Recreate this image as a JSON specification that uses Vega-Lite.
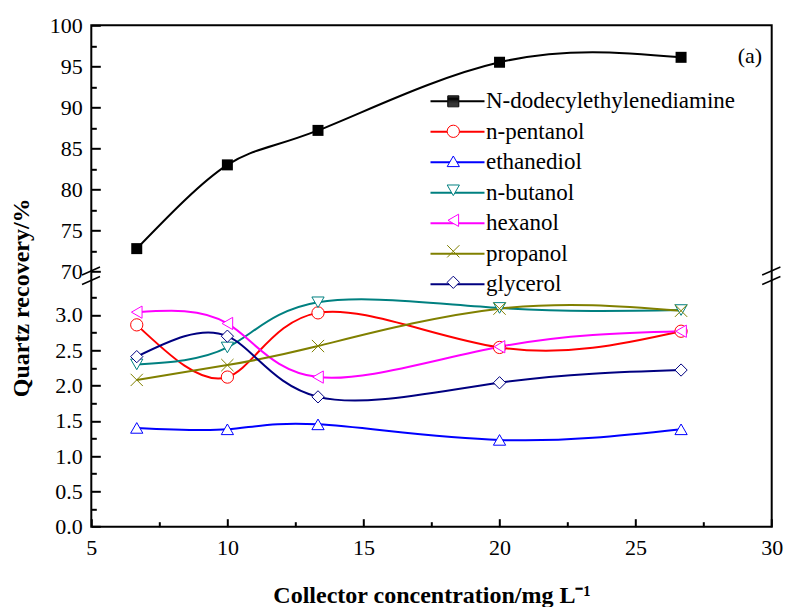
{
  "$schema": "https://vega.github.io/schema/vega-lite/v6.json",
  "width": 680.4,
  "height": 501.4,
  "autosize": {"type": "none"},
  "padding": {"left": 91.3, "top": 25.3, "right": 13.3, "bottom": 80.3},
  "background": "white",
  "config": {
    "font": "Liberation Serif",
    "view": {"stroke": "black", "strokeWidth": 2},
    "axis": {
      "labelFont": "Liberation Serif", "labelFontSize": 22, "labelColor": "black",
      "titleFont": "Liberation Serif", "titleFontSize": 24, "titleFontWeight": "bold", "titleColor": "black",
      "domain": false, "grid": false, "tickColor": "black", "tickWidth": 2,
      "labelFlush": false, "labelOverlap": false
    },
    "legend": {"labelFont": "Liberation Serif"}
  },
  "data": {
    "values": [
      {"series": "N-dodecylethylenediamine", "x": 6.67, "y": 72.8},
      {"series": "N-dodecylethylenediamine", "x": 10, "y": 83.0},
      {"series": "N-dodecylethylenediamine", "x": 13.33, "y": 87.2},
      {"series": "N-dodecylethylenediamine", "x": 20, "y": 95.5},
      {"series": "N-dodecylethylenediamine", "x": 26.67, "y": 96.1},
      {"series": "n-pentanol", "x": 6.67, "y": 2.86},
      {"series": "n-pentanol", "x": 10, "y": 2.12},
      {"series": "n-pentanol", "x": 13.33, "y": 3.03},
      {"series": "n-pentanol", "x": 20, "y": 2.54},
      {"series": "n-pentanol", "x": 26.67, "y": 2.77},
      {"series": "ethanediol", "x": 6.67, "y": 1.40},
      {"series": "ethanediol", "x": 10, "y": 1.38},
      {"series": "ethanediol", "x": 13.33, "y": 1.45},
      {"series": "ethanediol", "x": 20, "y": 1.23},
      {"series": "ethanediol", "x": 26.67, "y": 1.38},
      {"series": "n-butanol", "x": 6.67, "y": 2.30},
      {"series": "n-butanol", "x": 10, "y": 2.54},
      {"series": "n-butanol", "x": 13.33, "y": 3.18},
      {"series": "n-butanol", "x": 20, "y": 3.10},
      {"series": "n-butanol", "x": 26.67, "y": 3.07},
      {"series": "hexanol", "x": 6.67, "y": 3.04},
      {"series": "hexanol", "x": 10, "y": 2.88},
      {"series": "hexanol", "x": 13.33, "y": 2.12},
      {"series": "hexanol", "x": 20, "y": 2.55},
      {"series": "hexanol", "x": 26.67, "y": 2.77},
      {"series": "propanol", "x": 6.67, "y": 2.08},
      {"series": "propanol", "x": 10, "y": 2.29},
      {"series": "propanol", "x": 13.33, "y": 2.56},
      {"series": "propanol", "x": 20, "y": 3.09},
      {"series": "propanol", "x": 26.67, "y": 3.06},
      {"series": "glycerol", "x": 6.67, "y": 2.41},
      {"series": "glycerol", "x": 10, "y": 2.70},
      {"series": "glycerol", "x": 13.33, "y": 1.84},
      {"series": "glycerol", "x": 20, "y": 2.04},
      {"series": "glycerol", "x": 26.67, "y": 2.22}
    ]
  },
  "encoding": {
    "x": {
      "field": "x", "type": "quantitative",
      "scale": {"domain": [5, 30], "nice": false, "zero": false},
      "axis": {
        "values": [5, 7.5, 10, 12.5, 15, 17.5, 20, 22.5, 25, 27.5, 30],
        "labelExpr": "datum.value % 5 === 0 ? datum.label : ''",
        "tickSize": {"condition": {"test": "datum.value % 5 === 0", "value": -8}, "value": -5},
        "labelPadding": 19,
        "title": "Collector concentration/mg L⁻¹",
        "titleY": 69,
        "titleBaseline": "middle"
      }
    }
  },
  "layer": [
    {
      "encoding": {
        "y": {
          "field": "y", "type": "quantitative",
          "scale": {"domain": [0, 7.105], "nice": false, "zero": false},
          "axis": {
            "orient": "left",
            "values": [0, 0.25, 0.5, 0.75, 1, 1.25, 1.5, 1.75, 2, 2.25, 2.5, 2.75, 3, 3.25],
            "labelExpr": "datum.value % 0.5 === 0 ? format(datum.value, '.1f') : ''",
            "tickSize": {"condition": {"test": "datum.value % 0.5 === 0", "value": -9}, "value": -5},
            "labelPadding": 18,
            "title": "Quartz recovery/%",
            "titleX": -70.3,
            "titleY": 272,
            "titleAngle": -90,
            "titleAlign": "center",
            "titleBaseline": "middle"
          }
        }
      },
      "layer": [
        {
          "transform": [{"filter": "datum.series !== 'N-dodecylethylenediamine'"}],
          "mark": {"type": "line", "interpolate": "natural", "strokeWidth": 2},
          "encoding": {
            "stroke": {
              "field": "series", "type": "nominal",
              "scale": {
                "domain": ["glycerol", "propanol", "hexanol", "n-butanol", "ethanediol", "n-pentanol", "N-dodecylethylenediamine"],
                "range": ["#000080", "#808000", "#FF00FF", "#008080", "#0000FF", "#FF0000", "#000000"]
              },
              "legend": {
                "orient": "none", "legendX": 354.7, "legendY": 64.5, "title": null, "padding": 0,
                "values": ["N-dodecylethylenediamine", "n-pentanol", "ethanediol", "n-butanol", "hexanol", "propanol", "glycerol"],
                "symbolType": "M-4.5,0H4.5", "symbolSize": 144, "symbolStrokeWidth": 2,
                "labelFont": "Liberation Serif", "labelFontSize": 23, "labelColor": "black", "labelLimit": 0,
                "labelOffset": 17, "rowPadding": 6.5
              }
            }
          }
        },
        {
          "transform": [{"filter": "datum.series !== 'N-dodecylethylenediamine'"}],
          "mark": {"type": "point", "filled": false, "fill": "white", "size": 150, "strokeWidth": 1, "opacity": 1},
          "encoding": {
            "color": {
              "field": "series", "type": "nominal",
              "scale": {
                "domain": ["N-dodecylethylenediamine", "n-pentanol", "ethanediol", "n-butanol", "hexanol", "propanol", "glycerol"],
                "range": ["#000000", "#FF0000", "#0000FF", "#008080", "#FF00FF", "#808000", "#000080"]
              },
              "legend": {
                "orient": "none", "legendX": 355, "legendY": 69, "title": null, "padding": 0,
                "symbolSize": 150, "symbolStrokeWidth": 1,
                "labelExpr": "''", "rowPadding": 13
              }
            },
            "shape": {
              "field": "series", "type": "nominal",
              "scale": {
                "domain": ["N-dodecylethylenediamine", "n-pentanol", "ethanediol", "n-butanol", "hexanol", "propanol", "glycerol"],
                "range": [
                  "M-0.9,-0.9H0.9V0.9H-0.9Z M-0.9,-0.75H0.9 M-0.9,-0.6H0.9 M-0.9,-0.45H0.9 M-0.9,-0.3H0.9 M-0.9,-0.15H0.9 M-0.9,0H0.9 M-0.9,0.15H0.9 M-0.9,0.3H0.9 M-0.9,0.45H0.9 M-0.9,0.6H0.9 M-0.9,0.75H0.9",
                  "circle", "triangle-up", "triangle-down", "triangle-left", "M-1,-1L1,1M-1,1L1,-1", "diamond"
                ]
              },
              "legend": {
                "orient": "none", "legendX": 355, "legendY": 69, "title": null, "padding": 0,
                "symbolSize": 150, "symbolStrokeWidth": 1,
                "labelExpr": "''", "rowPadding": 13
              }
            }
          }
        },
        {
          "data": {"values": [
            {"x": 4.66, "y": 3.567, "x2": 5.32, "y2": 3.68},
            {"x": 4.66, "y": 3.432, "x2": 5.32, "y2": 3.545},
            {"x": 29.65, "y": 3.567, "x2": 30.32, "y2": 3.68},
            {"x": 29.65, "y": 3.432, "x2": 30.32, "y2": 3.545}
          ]},
          "mark": {"type": "rule", "strokeWidth": 1.5, "color": "black"},
          "encoding": {"x2": {"field": "x2"}, "y2": {"field": "y2"}}
        }
      ]
    },
    {
      "encoding": {
        "y": {
          "field": "y", "type": "quantitative",
          "scale": {"domain": [38.93, 100], "nice": false, "zero": false},
          "axis": {
            "orient": "left",
            "values": [70, 72.5, 75, 77.5, 80, 82.5, 85, 87.5, 90, 92.5, 95, 97.5, 100],
            "labelExpr": "datum.value % 5 === 0 ? datum.label : ''",
            "tickSize": {"condition": {"test": "datum.value % 5 === 0", "value": -9}, "value": -5},
            "labelPadding": 18,
            "title": null
          }
        }
      },
      "layer": [
        {
          "transform": [{"filter": "datum.series === 'N-dodecylethylenediamine'"}],
          "mark": {"type": "line", "interpolate": "natural", "strokeWidth": 2},
          "encoding": {"stroke": {"field": "series", "type": "nominal"}}
        },
        {
          "transform": [{"filter": "datum.series === 'N-dodecylethylenediamine'"}],
          "mark": {"type": "point", "shape": "square", "filled": true, "color": "black", "size": 121, "strokeWidth": 1, "opacity": 1}
        },
        {
          "data": {"values": [{"x": 29.2, "y": 96.3, "label": "(a)"}]},
          "mark": {"type": "text", "font": "Liberation Serif", "fontSize": 22, "align": "center", "baseline": "middle", "color": "black"},
          "encoding": {"text": {"field": "label"}}
        }
      ]
    }
  ],
  "resolve": {"scale": {"y": "independent"}}
}
